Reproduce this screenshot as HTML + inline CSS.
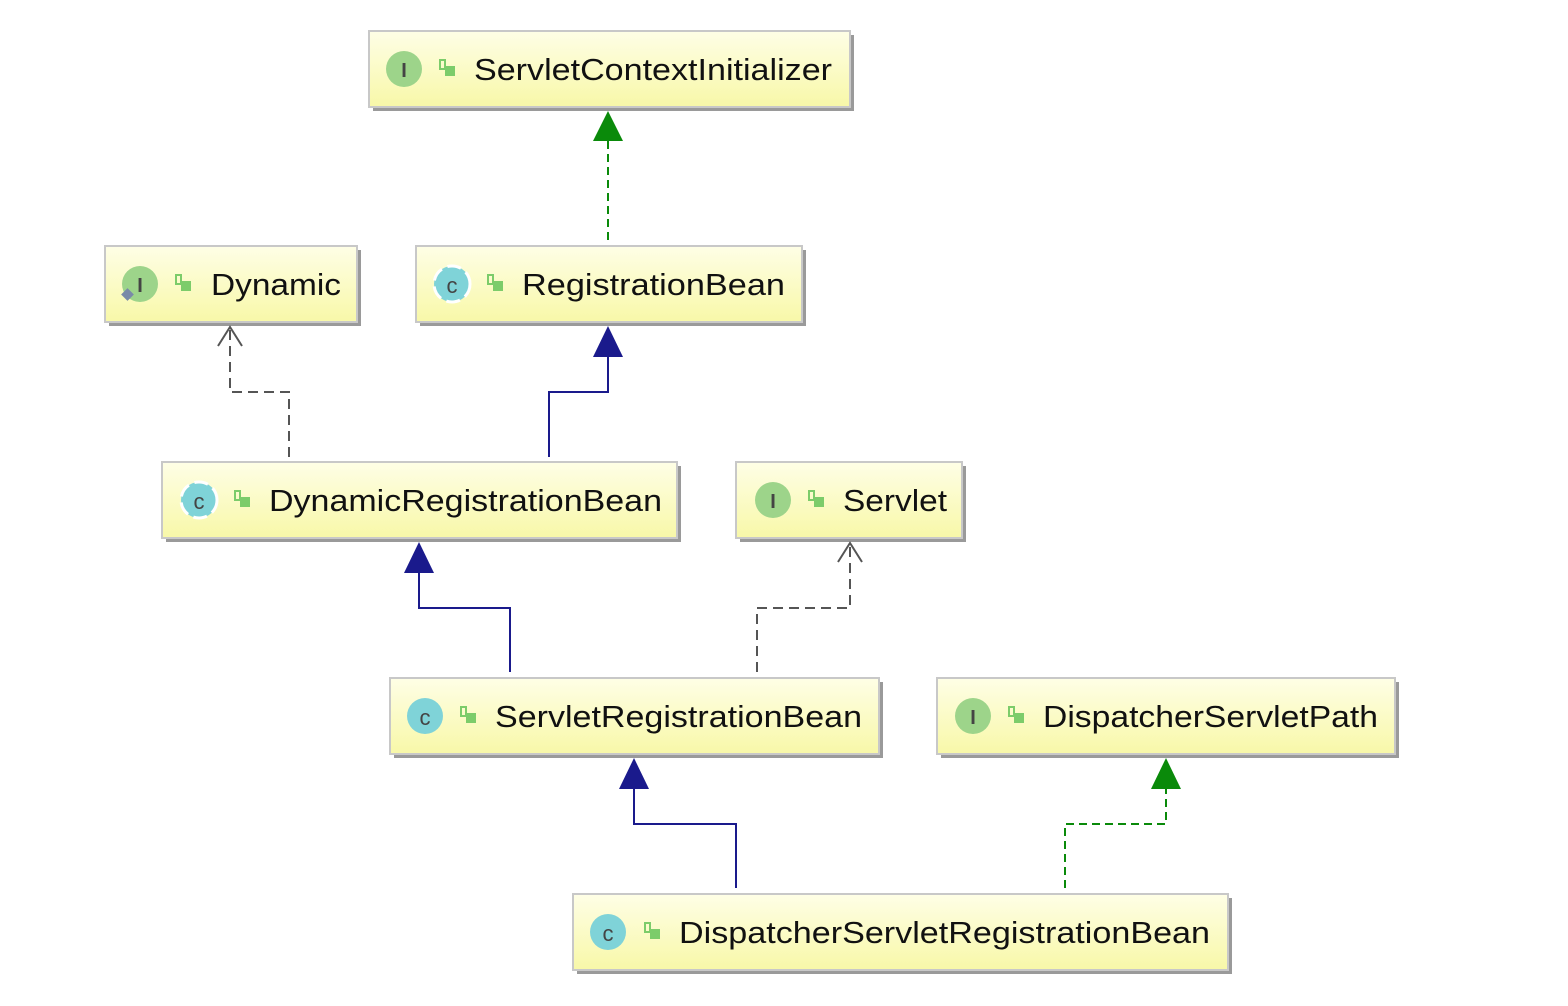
<!DOCTYPE html>
<html><head><meta charset="utf-8"><style>
html,body{margin:0;padding:0;background:#fff;}
svg{display:block}
text{font-family:"Liberation Sans",sans-serif;}
</style></head><body>
<svg width="1568" height="1006" viewBox="0 0 1568 1006" xmlns="http://www.w3.org/2000/svg">
<defs>
<linearGradient id="g" x1="0" y1="0" x2="0" y2="1">
<stop offset="0" stop-color="#fefee6"/><stop offset="1" stop-color="#f8f8a8"/>
</linearGradient>
</defs>
<g id="boxes">
<!-- helper: box -->
<g>
<rect x="373" y="35" width="481" height="76" fill="#9a9a9a"/>
<rect x="369" y="31" width="481" height="76" fill="url(#g)" stroke="#c8c8c8" stroke-width="2"/>
<circle cx="404" cy="69" r="18" fill="#9dd48a"/><text x="404" y="77" font-size="20" text-anchor="middle" fill="#444" font-family="Liberation Serif" font-weight="bold">I</text>
<rect x="440" y="60" width="5" height="9" fill="none" stroke="#7ccc6a" stroke-width="2"/><rect x="445" y="66" width="10" height="10" fill="#7ccc6a"/>
<text x="474" y="80" font-size="31" textLength="358" lengthAdjust="spacingAndGlyphs" fill="#111">ServletContextInitializer</text>
</g>
<g>
<rect x="109" y="250" width="252" height="76" fill="#9a9a9a"/>
<rect x="105" y="246" width="252" height="76" fill="url(#g)" stroke="#c8c8c8" stroke-width="2"/>
<circle cx="140" cy="284" r="18" fill="#9dd48a"/><text x="140" y="292" font-size="20" text-anchor="middle" fill="#444" font-family="Liberation Serif" font-weight="bold">I</text>
<rect x="123" y="290" width="9" height="9" fill="#7a8aa8" transform="rotate(45 127.5 294.5)"/>
<rect x="176" y="275" width="5" height="9" fill="none" stroke="#7ccc6a" stroke-width="2"/><rect x="181" y="281" width="10" height="10" fill="#7ccc6a"/>
<text x="211" y="295" font-size="31" textLength="130" lengthAdjust="spacingAndGlyphs" fill="#111">Dynamic</text>
</g>
<g>
<rect x="420" y="250" width="386" height="76" fill="#9a9a9a"/>
<rect x="416" y="246" width="386" height="76" fill="url(#g)" stroke="#c8c8c8" stroke-width="2"/>
<circle cx="452" cy="284" r="18" fill="#7fd3d8"/><circle cx="452" cy="284" r="18" fill="none" stroke="#fff" stroke-width="3" stroke-dasharray="14 6"/><text x="452" y="293" font-size="22" text-anchor="middle" fill="#444">c</text>
<rect x="488" y="275" width="5" height="9" fill="none" stroke="#7ccc6a" stroke-width="2"/><rect x="493" y="281" width="10" height="10" fill="#7ccc6a"/>
<text x="522" y="295" font-size="31" textLength="263" lengthAdjust="spacingAndGlyphs" fill="#111">RegistrationBean</text>
</g>
<g>
<rect x="166" y="466" width="515" height="76" fill="#9a9a9a"/>
<rect x="162" y="462" width="515" height="76" fill="url(#g)" stroke="#c8c8c8" stroke-width="2"/>
<circle cx="199" cy="500" r="18" fill="#7fd3d8"/><circle cx="199" cy="500" r="18" fill="none" stroke="#fff" stroke-width="3" stroke-dasharray="14 6"/><text x="199" y="509" font-size="22" text-anchor="middle" fill="#444">c</text>
<rect x="235" y="491" width="5" height="9" fill="none" stroke="#7ccc6a" stroke-width="2"/><rect x="240" y="497" width="10" height="10" fill="#7ccc6a"/>
<text x="269" y="511" font-size="31" textLength="393" lengthAdjust="spacingAndGlyphs" fill="#111">DynamicRegistrationBean</text>
</g>
<g>
<rect x="740" y="466" width="226" height="76" fill="#9a9a9a"/>
<rect x="736" y="462" width="226" height="76" fill="url(#g)" stroke="#c8c8c8" stroke-width="2"/>
<circle cx="773" cy="500" r="18" fill="#9dd48a"/><text x="773" y="508" font-size="20" text-anchor="middle" fill="#444" font-family="Liberation Serif" font-weight="bold">I</text>
<rect x="809" y="491" width="5" height="9" fill="none" stroke="#7ccc6a" stroke-width="2"/><rect x="814" y="497" width="10" height="10" fill="#7ccc6a"/>
<text x="843" y="511" font-size="31" textLength="104" lengthAdjust="spacingAndGlyphs" fill="#111">Servlet</text>
</g>
<g>
<rect x="394" y="682" width="489" height="76" fill="#9a9a9a"/>
<rect x="390" y="678" width="489" height="76" fill="url(#g)" stroke="#c8c8c8" stroke-width="2"/>
<circle cx="425" cy="716" r="18" fill="#7fd3d8"/><text x="425" y="725" font-size="22" text-anchor="middle" fill="#444">c</text>
<rect x="461" y="707" width="5" height="9" fill="none" stroke="#7ccc6a" stroke-width="2"/><rect x="466" y="713" width="10" height="10" fill="#7ccc6a"/>
<text x="495" y="727" font-size="31" textLength="367" lengthAdjust="spacingAndGlyphs" fill="#111">ServletRegistrationBean</text>
</g>
<g>
<rect x="941" y="682" width="458" height="76" fill="#9a9a9a"/>
<rect x="937" y="678" width="458" height="76" fill="url(#g)" stroke="#c8c8c8" stroke-width="2"/>
<circle cx="973" cy="716" r="18" fill="#9dd48a"/><text x="973" y="724" font-size="20" text-anchor="middle" fill="#444" font-family="Liberation Serif" font-weight="bold">I</text>
<rect x="1009" y="707" width="5" height="9" fill="none" stroke="#7ccc6a" stroke-width="2"/><rect x="1014" y="713" width="10" height="10" fill="#7ccc6a"/>
<text x="1043" y="727" font-size="31" textLength="335" lengthAdjust="spacingAndGlyphs" fill="#111">DispatcherServletPath</text>
</g>
<g>
<rect x="577" y="898" width="655" height="76" fill="#9a9a9a"/>
<rect x="573" y="894" width="655" height="76" fill="url(#g)" stroke="#c8c8c8" stroke-width="2"/>
<circle cx="608" cy="932" r="18" fill="#7fd3d8"/><text x="608" y="941" font-size="22" text-anchor="middle" fill="#444">c</text>
<rect x="645" y="923" width="5" height="9" fill="none" stroke="#7ccc6a" stroke-width="2"/><rect x="650" y="929" width="10" height="10" fill="#7ccc6a"/>
<text x="679" y="943" font-size="31" textLength="531" lengthAdjust="spacingAndGlyphs" fill="#111">DispatcherServletRegistrationBean</text>
</g>
</g>
<g fill="none" stroke-width="2">
<!-- green dashed to ServletContextInitializer -->
<path d="M608 240 V140" stroke="#0a8a0a" stroke-dasharray="8 5"/>
<polygon points="608,111 593,141 623,141" fill="#0a8a0a" stroke="none"/>
<!-- gray dashed to Dynamic -->
<path d="M289 457 V392 H230 V330" stroke="#555" stroke-dasharray="10 6"/>
<path d="M218 346 L230 327 L242 346" stroke="#555"/>
<!-- blue to RegistrationBean -->
<path d="M549 457 V392 H608 V356" stroke="#1a1a8c"/>
<polygon points="608,326 593,357 623,357" fill="#1a1a8c" stroke="none"/>
<!-- blue to DynamicRegistrationBean -->
<path d="M510 672 V608 H419 V572" stroke="#1a1a8c"/>
<polygon points="419,542 404,573 434,573" fill="#1a1a8c" stroke="none"/>
<!-- gray dashed to Servlet -->
<path d="M757 672 V608 H850 V546" stroke="#555" stroke-dasharray="10 6"/>
<path d="M838 562 L850 543 L862 562" stroke="#555"/>
<!-- blue to ServletRegistrationBean -->
<path d="M736 888 V824 H634 V788" stroke="#1a1a8c"/>
<polygon points="634,758 619,789 649,789" fill="#1a1a8c" stroke="none"/>
<!-- green dashed to DispatcherServletPath -->
<path d="M1065 888 V824 H1166 V788" stroke="#0a8a0a" stroke-dasharray="8 5"/>
<polygon points="1166,758 1151,789 1181,789" fill="#0a8a0a" stroke="none"/>
</g>
</svg>
</body></html>
